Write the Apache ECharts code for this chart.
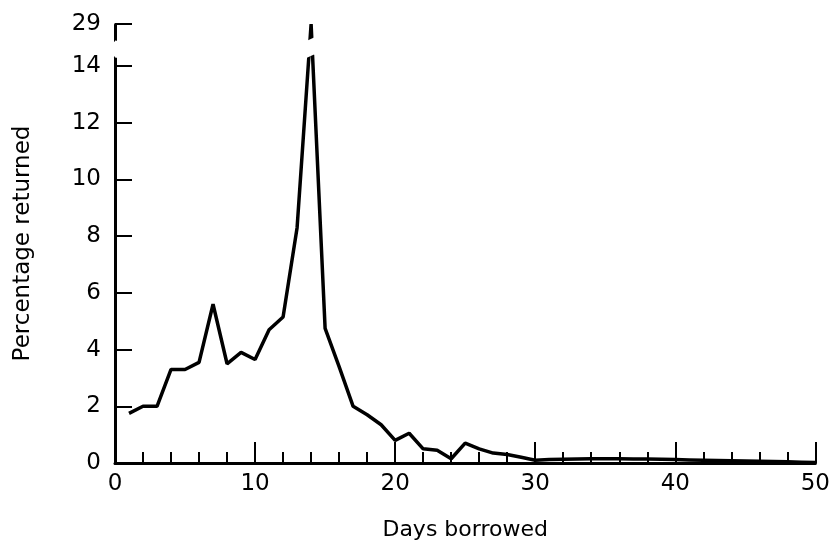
<!DOCTYPE html>
<html>
<head>
<meta charset="utf-8">
<script src="https://cdn.jsdelivr.net/npm/echarts@6/dist/echarts.min.js"></script>
<style>
html,body{margin:0;padding:0;background:#fff;}
#chart{width:833px;height:546px;}
</style>
</head>
<body>
<div id="chart"></div>
<script>
// Days borrowed (x) and percentage returned (y)
var days = [1,2,3,4,5,6,7,8,9,10,11,12,13,14,15,16,17,18,19,20,21,22,23,24,25,26,27,28,29,30,31,32,33,34,35,36,37,38,39,40,41,42,43,44,45,46,47,48,49,50];
var percentReturned = [1.75,2.0,2.0,3.3,3.3,3.55,5.6,3.5,3.9,3.65,4.7,5.15,8.3,29,4.75,3.4,2.0,1.7,1.35,0.8,1.05,0.5,0.45,0.15,0.7,0.5,0.35,0.3,0.2,0.1,0.12,0.13,0.14,0.15,0.15,0.15,0.14,0.14,0.13,0.12,0.11,0.1,0.09,0.08,0.07,0.06,0.05,0.04,0.03,0.02];
var yTickValues = [0,2,4,6,8,10,12,14,29];
var xAxisTitle = 'Days borrowed';
var yAxisTitle = 'Percentage returned';

var seriesData = days.map(function(d, i){ return [d, percentReturned[i]]; });

var chart = echarts.init(document.getElementById('chart'), null, {renderer:'canvas'});
var font = 'DejaVu Sans';
chart.setOption({
  animation:false,
  backgroundColor:'#fff',
  grid:{left:115, right:16, top:24, bottom:83},
  xAxis:{
    type:'value', min:0, max:50, interval:10,
    name:xAxisTitle, nameLocation:'middle', nameGap:56,
    nameTextStyle:{fontFamily:font, fontSize:22, color:'#000'},
    axisLine:{show:true, lineStyle:{color:'#000', width:3}},
    axisTick:{show:true, inside:true, length:21, lineStyle:{color:'#000', width:2}},
    minorTick:{show:true, splitNumber:5, length:11, lineStyle:{color:'#000', width:2}},
    axisLabel:{fontFamily:font, fontSize:23, color:'#000', margin:10},
    splitLine:{show:false}
  },
  yAxis:{
    type:'value', min:0, max:29,
    breaks:[{start:14.32, end:28.44, gap:'3.9%'}],
    breakArea:{show:true, expandOnClick:false, zigzagAmplitude:3,
      itemStyle:{color:'#fff', borderColor:'#000', borderWidth:0, opacity:1}},
    name:yAxisTitle, nameLocation:'middle', nameGap:80, nameRotate:90,
    nameTextStyle:{fontFamily:font, fontSize:23, color:'#000'},
    axisLine:{show:true, lineStyle:{color:'#000', width:3}},
    axisTick:{show:true, inside:true, length:17, customValues:yTickValues, lineStyle:{color:'#000', width:2}},
    axisLabel:{customValues:yTickValues, fontFamily:font, fontSize:23, color:'#000', margin:14},
    splitLine:{show:false}
  },
  series:[{
    type:'line', data:seriesData, showSymbol:false, symbol:'none',
    lineStyle:{color:'#000', width:3.5}, silent:true
  }]
});
</script>
</body>
</html>
